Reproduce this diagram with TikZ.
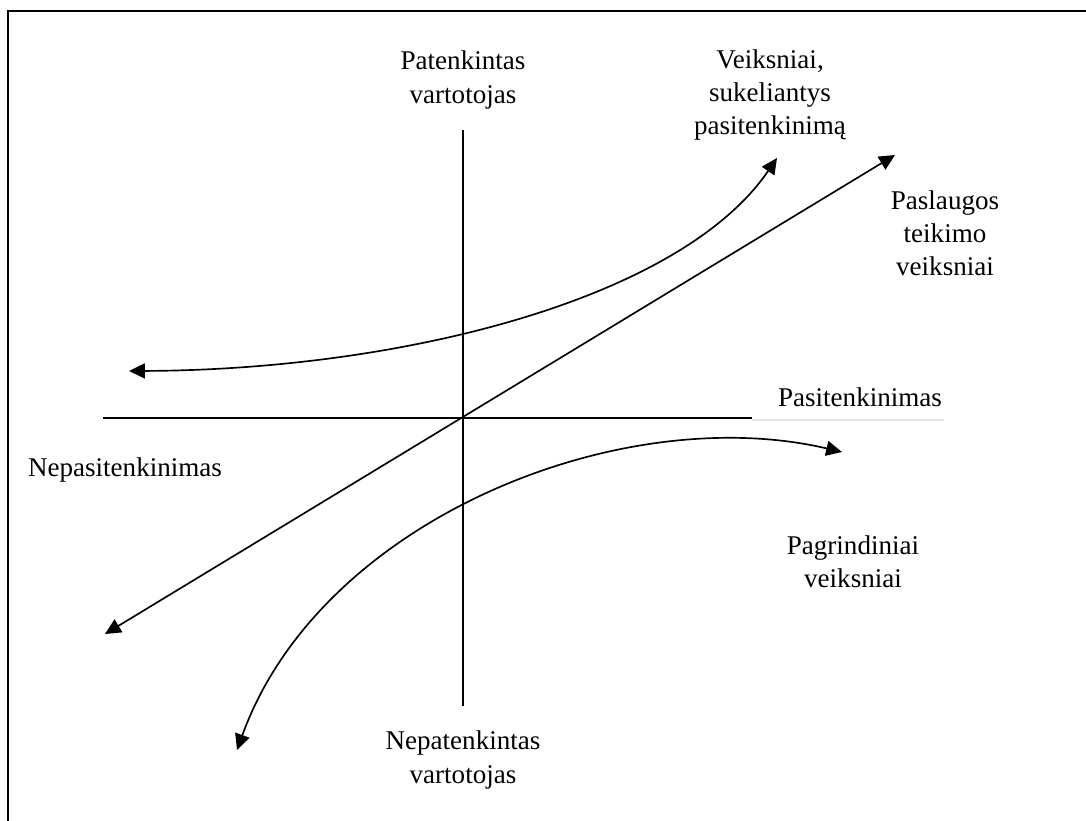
\documentclass[tikz,border=0pt]{standalone}
\usepackage{fontspec}
\setmainfont{Liberation Serif}
\usetikzlibrary{arrows.meta}
\begin{document}
\begin{tikzpicture}[x=0.02cm,y=-0.02cm,
  lbl/.style={inner sep=0pt,align=center,font=\fontsize{15.4}{18.8}\selectfont},
  axis/.style={line width=0.95pt},
  tip/.tip={Triangle[length=9pt,width=8.5pt]},
  darr/.style={line width=0.95pt,tip-tip}]
  \useasboundingbox (0,0) rectangle (1086,821);
  % frame (open at right and bottom)
  \draw[line width=1.2pt] (8,821) -- (8,11) -- (1086,11);

  % axes
  \coordinate (vtop) at (463,130);
  \coordinate (vbot) at (463,706);
  \coordinate (hl) at (103,418);
  \coordinate (hr) at (752,418);
  \coordinate (hg) at (944,420);
  \draw[axis] (vtop) -- (vbot);
  \draw[axis] (hl) -- (hr);
  \draw[gray!20,line width=0.6pt] (752,420) -- (hg);

  % diagonal: service delivery factors
  \coordinate (dl) at (105,634);
  \coordinate (dr) at (895,155);
  \draw[darr] (dl) -- (dr);

  % curve: factors causing satisfaction
  \coordinate (ul) at (129,371);
  \coordinate (ur) at (777,158);
  \draw[darr] (ul) .. controls (400,370) and (680,300) .. (ur);

  % curve: basic factors
  \coordinate (lb) at (237,750);
  \coordinate (lr) at (842,452);
  \draw[darr] (lb) .. controls (320,520) and (620,400) .. (lr);

  % labels
  \node[lbl] (pv) at (463,80) {Patenkintas\\vartotojas};
  \node[lbl] (vs) at (770,95) {Veiksniai,\\sukeliantys\\pasitenkinimą};
  \node[lbl] (pt) at (945,233) {Paslaugos\\teikimo\\veiksniai};
  \node[lbl] (ps) at (860,397) {Pasitenkinimas};
  \node[lbl] (np) at (125,470) {Nepasitenkinimas};
  \node[lbl] (pg) at (853,562) {Pagrindiniai\\veiksniai};
  \node[lbl] (nv) at (463,760) {Nepatenkintas\\vartotojas};
\end{tikzpicture}
\end{document}
